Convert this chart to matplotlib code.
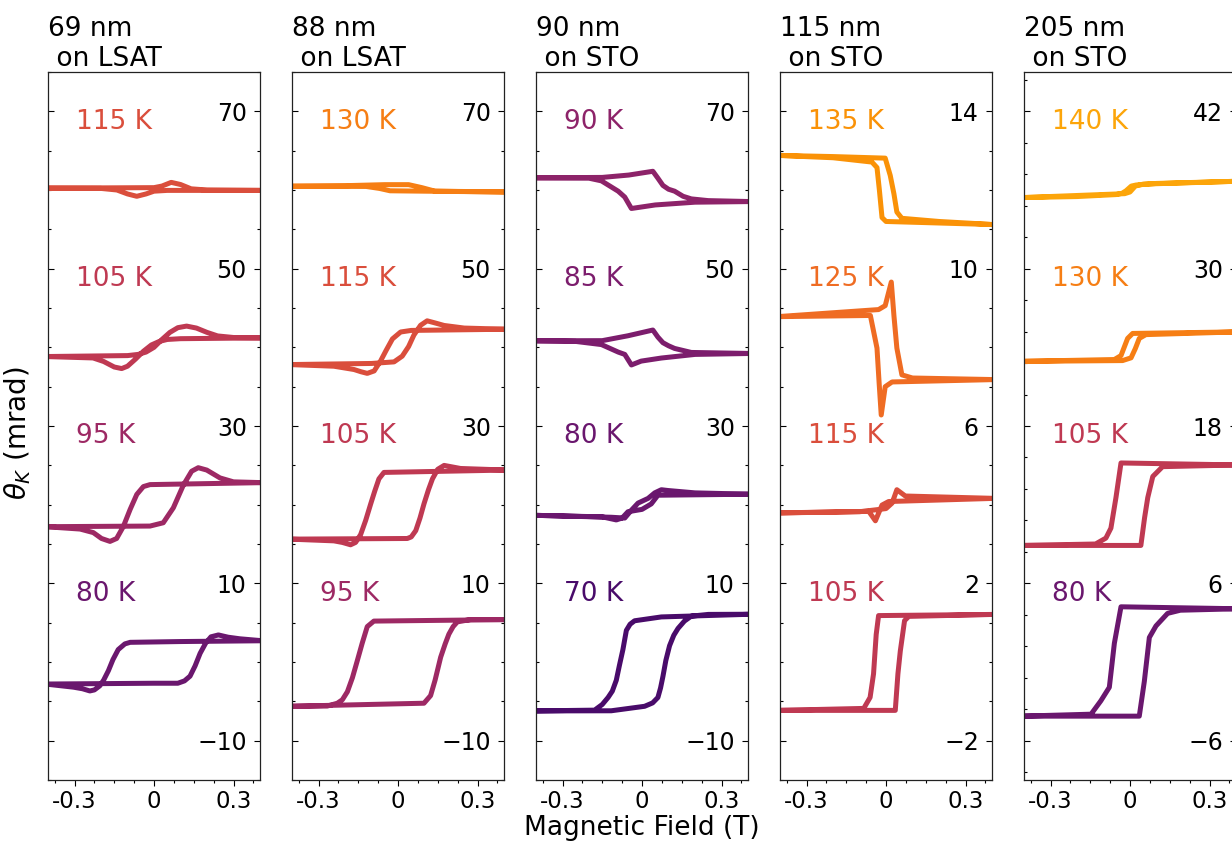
import matplotlib
matplotlib.use('Agg')
import matplotlib.pyplot as plt
from matplotlib.ticker import FixedLocator, AutoMinorLocator

# panel setup
titles = ['69 nm\n on LSAT', '88 nm\n on LSAT', '90 nm\n on STO', '115 nm\n on STO', '205 nm\n on STO']
yticks = [[-10, 10, 30, 50, 70], [-10, 10, 30, 50, 70], [-10, 10, 30, 50, 70],
          [-2, 2, 6, 10, 14], [-6, 6, 18, 30, 42]]
ylims = [(-15, 75), (-15, 75), (-15, 75), (-3, 15), (-9, 45)]
minor_divs = [4, 4, 4, 4, 5]
xticks = [-0.3, 0, 0.3]
xtick_labels = ['-0.3', '0', '0.3']

# temperatures, top to bottom
temps = [[115, 105, 95, 80], [130, 115, 105, 95], [90, 85, 80, 70],
         [135, 125, 115, 105], [140, 130, 105, 80]]

# ---- 69 nm on LSAT ----
lsat69_115K_H = [-0.41, 0.0, 0.03, 0.065, 0.1, 0.14, 0.2, 0.41,
                 0.05, 0.0, -0.03, -0.065, -0.1, -0.14, -0.2, -0.41]
lsat69_115K_th = [60.24, 60.3, 60.5, 60.97, 60.7, 60.15, 60.0, 59.95,
                  59.95, 59.85, 59.5, 59.2, 59.5, 60.0, 60.2, 60.24]
lsat69_105K_H = [-0.41, -0.1, -0.06, -0.03, 0.0, 0.03, 0.06, 0.09, 0.123, 0.16, 0.2, 0.24, 0.3, 0.41,
                 0.1, 0.05, 0.02, -0.01, -0.04, -0.07, -0.1, -0.122, -0.15, -0.19, -0.23, -0.41]
lsat69_105K_th = [38.83, 38.95, 39.1, 39.4, 40.0, 41.0, 41.9, 42.5, 42.7, 42.45, 41.9, 41.45, 41.25, 41.2,
                  41.1, 41.0, 40.75, 40.3, 39.5, 38.5, 37.6, 37.3, 37.5, 38.2, 38.65, 38.83]
lsat69_95K_H = [-0.41, -0.015, 0.035, 0.073, 0.111, 0.142, 0.167, 0.199, 0.249, 0.3, 0.41,
                -0.015, -0.04, -0.065, -0.09, -0.116, -0.141, -0.166, -0.198, -0.229, -0.279, -0.41]
lsat69_95K_th = [17.2, 17.28, 17.7, 19.6, 22.5, 24.25, 24.7, 24.4, 23.4, 22.9, 22.8,
                 22.55, 22.3, 21.3, 19.4, 17.2, 15.7, 15.33, 15.7, 16.45, 16.9, 17.2]
lsat69_80K_H = [-0.41, -0.2, 0.0, 0.09, 0.115, 0.136, 0.155, 0.174, 0.195, 0.215, 0.243, 0.28, 0.324, 0.41,
                0.1, -0.09, -0.11, -0.135, -0.155, -0.172, -0.19, -0.205, -0.225, -0.242, -0.27, -0.304, -0.41]
lsat69_80K_th = [-2.8, -2.75, -2.7, -2.7, -2.4, -1.8, -0.5, 1.1, 2.4, 3.2, 3.44, 3.15, 2.95, 2.7,
                 2.6, 2.5, 2.3, 1.58, 0.3, -1.1, -2.3, -3.04, -3.55, -3.68, -3.4, -3.2, -2.8]

# ---- 88 nm on LSAT ----
lsat88_130K_H = [-0.41, -0.12, -0.07, -0.03, 0.1, 0.41,
                 0.14, 0.09, 0.04, -0.05, -0.2, -0.41]
lsat88_130K_th = [60.48, 60.45, 60.2, 59.9, 59.85, 59.75,
                  59.85, 60.3, 60.68, 60.68, 60.55, 60.48]
lsat88_115K_H = [-0.41, -0.1, -0.015, 0.016, 0.04, 0.06, 0.085, 0.11, 0.14, 0.174, 0.25, 0.41,
                 0.05, 0.01, -0.021, -0.045, -0.066, -0.09, -0.116, -0.14, -0.166, -0.242, -0.41]
lsat88_115K_th = [37.81, 37.95, 38.15, 38.88, 40.1, 41.56, 42.8, 43.37, 43.1, 42.78, 42.45, 42.3,
                  42.15, 41.95, 41.07, 39.6, 38.25, 37.0, 36.69, 36.9, 37.18, 37.6, 37.81]
lsat88_105K_H = [-0.41, 0.035, 0.05, 0.067, 0.083, 0.098, 0.115, 0.13, 0.15, 0.174, 0.236, 0.41,
                 -0.053, -0.072, -0.088, -0.103, -0.122, -0.141, -0.16, -0.179, -0.21, -0.242, -0.41]
lsat88_105K_th = [15.62, 15.7, 15.9, 16.7, 18.3, 20.1, 21.9, 23.28, 24.5, 24.99, 24.6, 24.4,
                  24.1, 23.28, 21.7, 20.1, 18.0, 16.2, 15.2, 14.9, 15.2, 15.4, 15.62]
lsat88_95K_H = [-0.41, 0.098, 0.123, 0.14, 0.161, 0.178, 0.192, 0.208, 0.224, 0.274, 0.41,
                -0.091, -0.116, -0.135, -0.154, -0.172, -0.191, -0.21, -0.229, -0.267, -0.41]
lsat88_95K_th = [-5.63, -5.24, -4.27, -2.3, 0.61, 2.3, 3.54, 4.5, 5.1, 5.4, 5.39,
                 5.2, 4.5, 2.4, 0.12, -2.0, -3.78, -4.8, -5.24, -5.6, -5.63]

# ---- 90 nm on STO ----
sto90_90K_H = [-0.41, -0.15, -0.05, 0.041, 0.06, 0.079, 0.1, 0.123, 0.155, 0.186, 0.25, 0.41,
               0.2, 0.05, -0.04, -0.065, -0.09, -0.153, -0.2, -0.41]
sto90_90K_th = [61.55, 61.6, 61.9, 62.38, 61.5, 60.58, 60.1, 59.85, 59.2, 58.87, 58.65, 58.53,
                58.45, 58.1, 57.65, 59.1, 59.85, 61.16, 61.5, 61.55]
sto90_85K_H = [-0.41, -0.15, -0.053, 0.041, 0.06, 0.079, 0.1, 0.123, 0.186, 0.41,
               0.2, 0.073, -0.003, -0.04, -0.065, -0.09, -0.153, -0.25, -0.41]
sto90_85K_th = [40.83, 40.85, 41.47, 42.2, 41.3, 40.59, 40.2, 39.86, 39.35, 39.22,
                39.1, 38.64, 38.25, 37.76, 39.1, 39.4, 40.35, 40.75, 40.83]
sto90_80K_H = [-0.41, -0.116, -0.065, -0.04, -0.015, 0.023, 0.048, 0.073, 0.098, 0.2, 0.41,
               0.06, 0.035, 0.0, -0.053, -0.075, -0.097, -0.15, -0.41]
sto90_80K_th = [18.65, 18.4, 18.3, 19.3, 20.2, 20.8, 21.5, 21.9, 21.8, 21.5, 21.33,
                21.2, 20.1, 19.4, 19.1, 18.3, 18.06, 18.45, 18.65]
sto90_70K_H = [-0.41, -0.116, 0.01, 0.04, 0.06, 0.07, 0.079, 0.09, 0.104, 0.12, 0.136, 0.16, 0.186, 0.25, 0.41,
               0.073, -0.028, -0.045, -0.059, -0.065, -0.072, -0.085, -0.097, -0.112, -0.128, -0.15, -0.179, -0.41]
sto90_70K_th = [-6.22, -6.2, -5.63, -5.2, -4.51, -3.3, -1.83, 0.2, 2.07, 3.4, 4.27, 5.2, 5.83, 6.05, 6.07,
                5.73, 5.24, 4.8, 4.02, 2.9, 1.58, -0.4, -2.32, -3.7, -4.51, -5.4, -6.12, -6.22]

# ---- 115 nm on STO ----
sto115_135K_H = [-0.41, -0.2, -0.003, 0.016, 0.03, 0.041, 0.06, 0.2, 0.41,
                 0.0, -0.015, -0.025, -0.034, -0.053, -0.2, -0.41]
sto115_135K_th = [12.88, 12.85, 12.81, 12.37, 11.9, 11.44, 11.28, 11.2, 11.12,
                  11.2, 11.3, 12.0, 12.57, 12.71, 12.82, 12.88]
sto115_125K_H = [-0.41, -0.028, -0.003, 0.02, 0.03, 0.041, 0.06, 0.1, 0.41,
                 0.023, -0.003, -0.018, -0.026, -0.034, -0.059, -0.41]
sto115_125K_th = [8.78, 8.96, 9.06, 9.66, 8.8, 7.98, 7.3, 7.22, 7.18,
                  7.12, 7.0, 6.28, 7.1, 7.98, 8.81, 8.78]
sto115_115K_H = [-0.41, -0.065, -0.04, -0.015, 0.01, 0.41,
                 0.073, 0.041, 0.023, 0.0, -0.1, -0.41]
sto115_115K_th = [3.79, 3.83, 3.59, 3.99, 4.08, 4.16,
                  4.22, 4.38, 4.04, 3.9, 3.82, 3.79]
sto115_105K_H = [-0.41, 0.035, 0.045, 0.054, 0.07, 0.086, 0.41,
                 -0.028, -0.037, -0.047, -0.06, -0.084, -0.41]
sto115_105K_th = [-1.23, -1.23, -0.3, 0.28, 1.05, 1.16, 1.21,
                  1.18, 0.7, -0.3, -0.9, -1.18, -1.23]

# ---- 205 nm on STO ----
sto205_140K_H = [-0.41, -0.2, -0.053, -0.03, -0.015, 0.005, 0.023, 0.1, 0.41,
                 0.05, 0.02, 0.0, -0.02, -0.41]
sto205_140K_th = [35.42, 35.5, 35.65, 35.75, 35.94, 36.3, 36.38, 36.5, 36.67,
                  36.45, 36.3, 35.85, 35.72, 35.42]
sto205_130K_H = [-0.41, -0.028, 0.004, 0.02, 0.035, 0.06, 0.41,
                 0.01, -0.009, -0.034, -0.059, -0.41]
sto205_130K_th = [22.93, 22.99, 23.2, 23.9, 24.68, 24.97, 25.18,
                  25.06, 24.68, 23.37, 23.07, 22.93]
sto205_105K_H = [-0.41, 0.041, 0.055, 0.067, 0.086, 0.123, 0.41,
                 -0.034, -0.053, -0.072, -0.091, -0.13, -0.41]
sto205_105K_th = [8.89, 8.89, 11.0, 12.54, 14.15, 14.9, 15.03,
                  15.18, 12.54, 10.21, 9.45, 9.0, 8.89]
sto205_80K_H = [-0.41, 0.035, 0.054, 0.073, 0.098, 0.142, 0.19, 0.41,
                -0.034, -0.059, -0.078, -0.11, -0.147, -0.41]
sto205_80K_th = [-4.13, -4.13, -1.49, 1.87, 2.75, 3.71, 3.95, 4.06,
                 4.21, 1.43, -1.93, -2.96, -3.98, -4.13]

loops = [
    [(lsat69_115K_H, lsat69_115K_th), (lsat69_105K_H, lsat69_105K_th),
     (lsat69_95K_H, lsat69_95K_th), (lsat69_80K_H, lsat69_80K_th)],
    [(lsat88_130K_H, lsat88_130K_th), (lsat88_115K_H, lsat88_115K_th),
     (lsat88_105K_H, lsat88_105K_th), (lsat88_95K_H, lsat88_95K_th)],
    [(sto90_90K_H, sto90_90K_th), (sto90_85K_H, sto90_85K_th),
     (sto90_80K_H, sto90_80K_th), (sto90_70K_H, sto90_70K_th)],
    [(sto115_135K_H, sto115_135K_th), (sto115_125K_H, sto115_125K_th),
     (sto115_115K_H, sto115_115K_th), (sto115_105K_H, sto115_105K_th)],
    [(sto205_140K_H, sto205_140K_th), (sto205_130K_H, sto205_130K_th),
     (sto205_105K_H, sto205_105K_th), (sto205_80K_H, sto205_80K_th)],
]


def temp_color(T):
    return plt.cm.inferno((T - 44) / 120.0)


fig = plt.figure(figsize=(12.32, 8.42), dpi=100)

W, H = 1232.0, 842.0
for i in range(5):
    left = (48 + 244 * i) / W
    ax = fig.add_axes([left, 62 / H, 212 / W, 708 / H])

    for (field, theta), T in zip(loops[i], temps[i]):
        ax.plot(field, theta, color=temp_color(T), lw=3.6,
                solid_joinstyle='round', solid_capstyle='round')

    # temperature labels, just below the upper four y ticks
    for T, yv in zip(temps[i], sorted(yticks[i], reverse=True)):
        ax.annotate(f'{T} K', xy=(-0.295, yv), xytext=(0, -7.5), textcoords='offset points',
                    ha='left', va='center', fontsize=19, color=temp_color(T))

    ax.set_xlim(-0.4, 0.4)
    ax.set_ylim(*ylims[i])

    ax.xaxis.set_major_locator(FixedLocator(xticks))
    ax.set_xticklabels(xtick_labels)
    ax.xaxis.set_minor_locator(AutoMinorLocator(4))
    ax.yaxis.set_major_locator(FixedLocator(yticks[i]))
    ax.yaxis.set_minor_locator(AutoMinorLocator(minor_divs[i]))

    ax.tick_params(axis='x', which='both', direction='out', labelsize=16.5, width=0.8)
    ax.tick_params(axis='x', which='major', length=4)
    ax.tick_params(axis='x', which='minor', length=2.5)
    ax.tick_params(axis='y', which='both', direction='in', left=True, right=True,
                   labelleft=False, labelright=True, labelsize=17, pad=-9.5, width=0.8)
    ax.tick_params(axis='y', which='major', length=4)
    ax.tick_params(axis='y', which='minor', length=2.5)
    for lab in ax.get_yticklabels():
        lab.set_horizontalalignment('right')

    for sp in ax.spines.values():
        sp.set_linewidth(0.9)
        sp.set_color('#222222')

    ax.set_title(titles[i], loc='left', fontsize=19, pad=3, linespacing=1.2)

fig.text(18 / W, 1 - 433 / H, r'$\theta_K$ (mrad)', rotation=90, ha='center', va='center', fontsize=20)
fig.text(642 / W, 1 - 828 / H, 'Magnetic Field (T)', ha='center', va='center', fontsize=19)

fig.savefig('out.png', dpi=100)
